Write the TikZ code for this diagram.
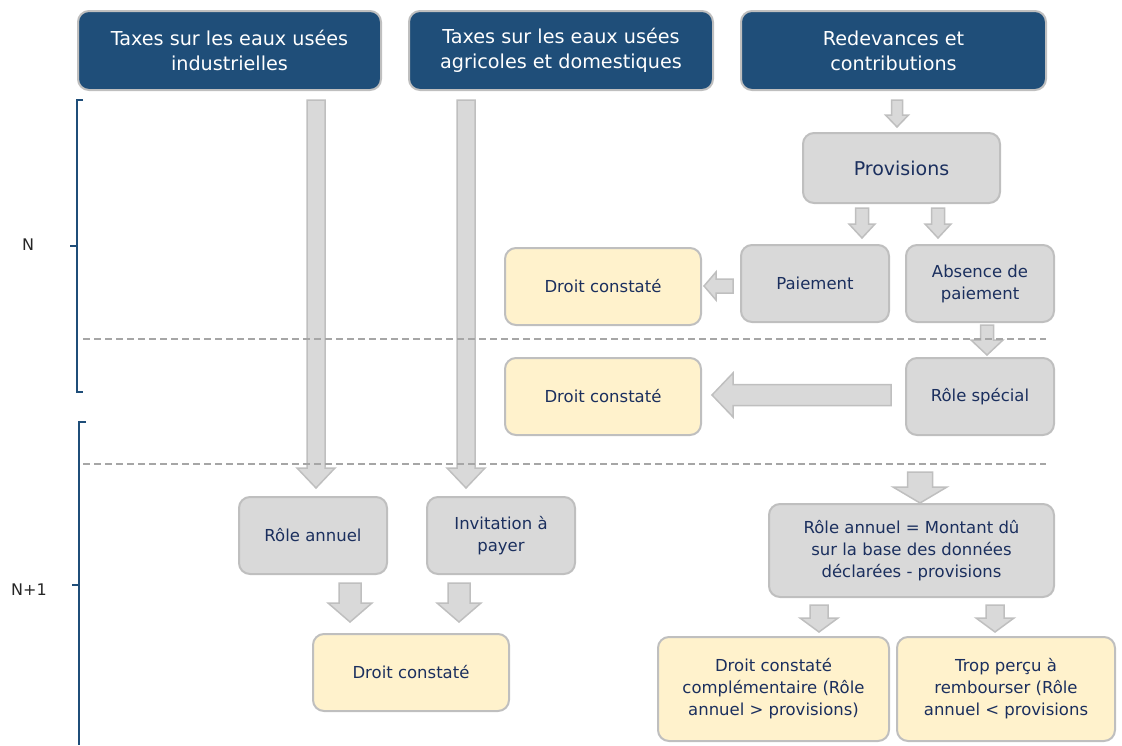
\documentclass[tikz,border=0pt]{standalone}
\usepackage{fontspec}
\setmainfont{DejaVu Sans}
\usetikzlibrary{calc}

\definecolor{headblue}{HTML}{1F4E79}
\definecolor{boxgray}{HTML}{D9D9D9}
\definecolor{edgegray}{HTML}{BFBFBF}
\definecolor{paleyellow}{HTML}{FFF2CC}
\definecolor{navytext}{HTML}{1B2F5E}
\definecolor{dashgray}{HTML}{A6A6A6}

% Block arrow from #1 to #2: shaft half-width #3, head half-width #4, head length #5
\newcommand{\blockarrow}[5]{%
  \coordinate (ba-base) at ($(#2)!#5!(#1)$);
  \draw[arrowbody]
    ($(#1)!#3!90:(#2)$) -- ($(ba-base)!#3!-90:(#1)$) -- ($(ba-base)!#4!-90:(#1)$)
    -- (#2) -- ($(ba-base)!#4!90:(#1)$) -- ($(ba-base)!#3!90:(#1)$)
    -- ($(#1)!#3!-90:(#2)$) -- cycle;
}

\tikzset{
  base/.style={rounded corners=11pt, line width=2pt, draw=edgegray, align=center,
    inner sep=0pt, font=\fontsize{16.5}{22}\selectfont, text=navytext},
  headbox/.style={base, fill=headblue, text=white,
    font=\fontsize{19.2}{25}\selectfont, minimum height=79pt},
  graybox/.style={base, fill=boxgray},
  yellowbox/.style={base, fill=paleyellow},
  arrowbody/.style={fill=boxgray, draw=edgegray, line width=1.5pt, line join=miter},
  period/.style={draw=headblue, line width=2pt},
  divider/.style={draw=dashgray, line width=2pt, dash pattern=on 7pt off 4pt},
  yearlabel/.style={font=\fontsize{16}{18}\selectfont, text=black!85},
}

\begin{document}
\begin{tikzpicture}[x=1pt, y=-1pt]
  \useasboundingbox (0,0) rectangle (1122,745);

  % column headers
  \node[headbox, minimum width=303pt] (h1) at (229.5,50.5) {Taxes sur les eaux usées\\industrielles};
  \node[headbox, minimum width=304pt] (h2) at (561,50.5) {Taxes sur les eaux usées\\agricoles et domestiques};
  \node[headbox, minimum width=305pt] (h3) at (893.5,50.5) {Redevances et\\contributions};

  % year N
  \node[graybox, minimum width=197pt, minimum height=70pt,
        font=\fontsize{19}{22}\selectfont] (prov) at (901.5,168) {Provisions};
  \node[graybox, minimum width=148pt, minimum height=77pt] (paie) at (815,283.5) {Paiement};
  \node[graybox, minimum width=148pt, minimum height=77pt] (abs) at (980,283.5) {Absence de\\paiement};
  \node[yellowbox, minimum width=196pt, minimum height=77pt] (dc1) at (603,286.5) {Droit constaté};
  \node[graybox, minimum width=148pt, minimum height=77pt] (rs) at (980,396.5) {Rôle spécial};
  \node[yellowbox, minimum width=196pt, minimum height=77pt] (dc2) at (603,396.5) {Droit constaté};

  % year N+1
  \node[graybox, minimum width=148pt, minimum height=77pt] (ra) at (313,535.5) {Rôle annuel};
  \node[graybox, minimum width=148pt, minimum height=77pt] (inv) at (501,535.5) {Invitation à\\payer};
  \node[yellowbox, minimum width=196pt, minimum height=77pt] (dc3) at (411,672.5) {Droit constaté};
  \node[graybox, minimum width=285pt, minimum height=93pt] (ram) at (911.5,550.5)
    {Rôle annuel = Montant dû\\sur la base des données\\déclarées - provisions};
  \node[yellowbox, minimum width=231pt, minimum height=104pt] (dcc) at (773.5,689)
    {Droit constaté\\complémentaire (Rôle\\annuel > provisions)};
  \node[yellowbox, minimum width=218pt, minimum height=104pt] (tp) at (1006,689)
    {Trop perçu à\\rembourser (Rôle\\annuel < provisions};

  % arrow end points
  \coordinate (a1s) at (316,100);  \coordinate (a1e) at (316,488);
  \coordinate (a2s) at (466,100);  \coordinate (a2e) at (466,488);
  \coordinate (a3s) at (897,100);  \coordinate (a3e) at (897,127);
  \coordinate (a4s) at (862,208);  \coordinate (a4e) at (862,238);
  \coordinate (a5s) at (938,208);  \coordinate (a5e) at (938,238);
  \coordinate (a6s) at (733,286);  \coordinate (a6e) at (704,286);
  \coordinate (a7s) at (987,325);  \coordinate (a7e) at (987,355);
  \coordinate (a8s) at (891,395);  \coordinate (a8e) at (712,395);
  \coordinate (a9s) at (920,472);  \coordinate (a9e) at (920,503);
  \coordinate (a10s) at (350,583); \coordinate (a10e) at (350,622);
  \coordinate (a11s) at (459,583); \coordinate (a11e) at (459,622);
  \coordinate (a12s) at (819,605); \coordinate (a12e) at (819,632);
  \coordinate (a13s) at (995,605); \coordinate (a13e) at (995,632);

  \blockarrow{a1s}{a1e}{9pt}{19pt}{20pt}
  \blockarrow{a2s}{a2e}{9pt}{19pt}{20pt}
  \blockarrow{a3s}{a3e}{5.5pt}{11.5pt}{12pt}
  \blockarrow{a4s}{a4e}{6.5pt}{13pt}{14pt}
  \blockarrow{a5s}{a5e}{6.5pt}{13pt}{14pt}
  \blockarrow{a6s}{a6e}{7pt}{14pt}{12pt}
  \blockarrow{a7s}{a7e}{6.5pt}{16pt}{15pt}
  \blockarrow{a8s}{a8e}{10.5pt}{22pt}{21pt}
  \blockarrow{a9s}{a9e}{12.5pt}{27pt}{16pt}
  \blockarrow{a10s}{a10e}{11pt}{22pt}{19pt}
  \blockarrow{a11s}{a11e}{11pt}{22pt}{19pt}
  \blockarrow{a12s}{a12e}{9pt}{19pt}{14pt}
  \blockarrow{a13s}{a13e}{9pt}{19pt}{14pt}

  % year dividers
  \coordinate (d1l) at (83,339);  \coordinate (d1r) at (1046,339);
  \coordinate (d2l) at (83,464);  \coordinate (d2r) at (1046,464);
  \draw[divider] (d1l) -- (d1r);
  \draw[divider] (d2l) -- (d2r);

  % period brackets
  \draw[period] (83,100) -- (77,100) -- (77,392) -- (83,392);
  \draw[period] (70,246) -- (77,246);
  \draw[period] (86,422) -- (79,422) -- (79,745);
  \draw[period] (72,585) -- (79,585);
  \node[yearlabel] (yn) at (28,245) {N};
  \node[yearlabel] (yn1) at (29,590) {N+1};
\end{tikzpicture}
\end{document}
